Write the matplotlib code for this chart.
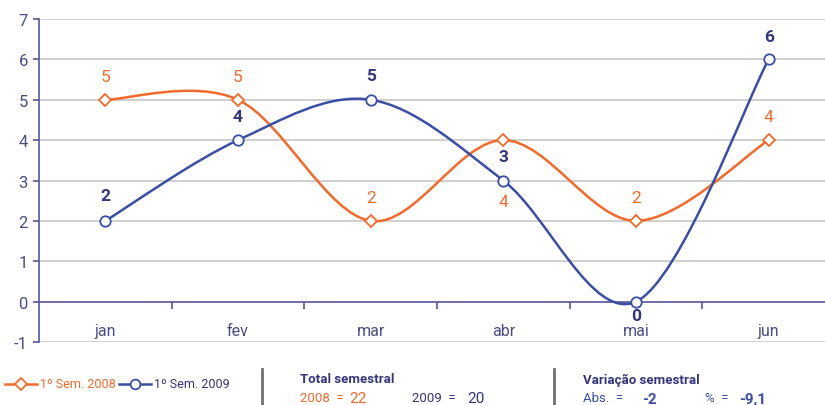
import matplotlib
matplotlib.use("Agg")
import matplotlib.pyplot as plt
from matplotlib.path import Path
from matplotlib.patches import PathPatch
from matplotlib.lines import Line2D
import numpy as np

months = ["jan", "fev", "mar", "abr", "mai", "jun"]
sem2008 = [5, 5, 2, 4, 2, 4]
sem2009 = [2, 4, 5, 3, 0, 6]
yticks = [-1, 0, 1, 2, 3, 4, 5, 6, 7]
legend_labels = ["1º Sem. 2008", "1º Sem. 2009"]
total_2008 = "22"
total_2009 = "20"
var_abs = "-2"
var_pct = "-9,1"

ORANGE = "#F26A2B"
BLUE = "#3A4EA3"
NAVY = "#34357A"
AXC = "#55559A"
TICKC = "#4B4B85"
GRID = "#CFCFCF"
FONT = ["Roboto", "DejaVu Sans"]
plt.rcParams['font.family'] = FONT

fig = plt.figure(figsize=(8.25, 4.06), dpi=100)
W, H = 825, 406
left_px, right_px = 39, 835
top_px, bot_px = 20, 343
ax = fig.add_axes([left_px / W, 1 - bot_px / H, (right_px - left_px) / W, (bot_px - top_px) / H])
ax.set_xlim(-0.5, 5.5)
ax.set_ylim(-1, 7)
ax.patch.set_visible(False)

for y in yticks:
    if y != 0:
        ax.axhline(y, color=GRID, lw=1.4, zorder=0)

for s in ["top", "right"]:
    ax.spines[s].set_visible(False)
ax.spines["bottom"].set_position(("data", 0))
ax.spines["bottom"].set_color(AXC)
ax.spines["bottom"].set_linewidth(1.2)
ax.spines["left"].set_color(AXC)
ax.spines["left"].set_linewidth(1.2)
ax.set_yticks(yticks)
ax.set_yticklabels([str(v) for v in yticks])
ax.tick_params(axis="y", colors=AXC, labelcolor=TICKC, labelsize=12, length=4, width=1.2, pad=4)
ax.set_xticks(np.arange(len(months) - 1) + 0.5)
ax.set_xticklabels([])
ax.tick_params(axis="x", colors=AXC, length=5, width=1.2, direction="out")
for i, m in enumerate(months):
    ax.text(i, -0.72, m, ha="center", va="center", color=TICKC, fontsize=11.5)


def smooth_path(xs, ys):
    pts = np.column_stack([xs, ys]).astype(float)
    n = len(pts)
    verts = [pts[0]]
    codes = [Path.MOVETO]
    for i in range(n - 1):
        p0 = pts[i - 1] if i > 0 else pts[i]
        p1 = pts[i]
        p2 = pts[i + 1]
        p3 = pts[i + 2] if i + 2 < n else pts[i + 1]
        c1 = p1 + (p2 - p0) / 6.0
        c2 = p2 - (p3 - p1) / 6.0
        verts += [c1, c2, p2]
        codes += [Path.CURVE4] * 3
    return Path(verts, codes)


x = np.arange(len(months))
for ys, col in [(sem2008, ORANGE), (sem2009, BLUE)]:
    ax.add_patch(PathPatch(smooth_path(x, ys), fill=False, edgecolor=col, lw=1.8, zorder=3,
                           capstyle="round", joinstyle="round"))
ax.plot(x, sem2008, ls="none", marker="D", ms=6, mfc="white", mec=ORANGE, mew=1.3, zorder=4)
ax.plot(x, sem2009, ls="none", marker="o", ms=7.5, mfc="white", mec=BLUE, mew=1.3, zorder=4)

# data labels (pixel offsets)
off08 = [23, 23, 23, -61, 23, 24]
off09 = [25, 24, 24, 24, -14, 23]
for i in range(len(months)):
    ax.annotate(str(sem2008[i]), (x[i], sem2008[i]), xytext=(0, off08[i]), textcoords="offset pixels",
                ha="center", va="center", color=ORANGE, fontsize=12.5, zorder=5)
    ax.annotate(str(sem2009[i]), (x[i], sem2009[i]), xytext=(0, off09[i]), textcoords="offset pixels",
                ha="center", va="center", color=NAVY, fontsize=12.5, fontweight="bold", zorder=5)

# legend (manual)
def fx(px):
    return px / W

def fy(py):
    return 1 - py / H

ly = 385
fig.add_artist(Line2D([fx(5), fx(37)], [fy(ly), fy(ly)], color=ORANGE, lw=1.8))
fig.add_artist(Line2D([fx(21)], [fy(ly)], marker="D", ms=6, mfc="white", mec=ORANGE, mew=1.3, ls="none"))
fig.text(fx(40), fy(ly), legend_labels[0], color=ORANGE, fontsize=9, va="center", ha="left")
fig.add_artist(Line2D([fx(119), fx(151)], [fy(ly), fy(ly)], color=BLUE, lw=1.8))
fig.add_artist(Line2D([fx(135)], [fy(ly)], marker="o", ms=7, mfc="white", mec=BLUE, mew=1.3, ls="none"))
fig.text(fx(154), fy(ly), legend_labels[1], color=NAVY, fontsize=9, va="center", ha="left")

# separators
for sx in [262, 554]:
    fig.add_artist(Line2D([fx(sx), fx(sx)], [fy(370), fy(406)], color="#707070", lw=2))

fig.text(fx(300), fy(380), "Total semestral", color=NAVY, fontsize=9.5, fontweight="bold", va="center", ha="left")
fig.text(fx(300), fy(399), "2008  =", color=ORANGE, fontsize=9.5, va="center", ha="left")
fig.text(fx(349), fy(399), total_2008, color=ORANGE, fontsize=11, va="center", ha="left")
fig.text(fx(412), fy(399), "2009  =", color=NAVY, fontsize=9.5, va="center", ha="left")
fig.text(fx(467), fy(399), total_2009, color=NAVY, fontsize=11, va="center", ha="left")

fig.text(fx(583), fy(380), "Variação semestral", color=NAVY, fontsize=9.5, fontweight="bold", va="center", ha="left")
fig.text(fx(583), fy(399), "Abs.  =", color=BLUE, fontsize=9.5, va="center", ha="left")
fig.text(fx(642), fy(400), var_abs, color=BLUE, fontsize=11, fontweight="bold", va="center", ha="left")
fig.text(fx(705), fy(399), "%  =", color=BLUE, fontsize=9.5, va="center", ha="left")
fig.text(fx(739), fy(400), var_pct, color=BLUE, fontsize=11, fontweight="bold", va="center", ha="left")

fig.savefig("out.png", dpi=100)
